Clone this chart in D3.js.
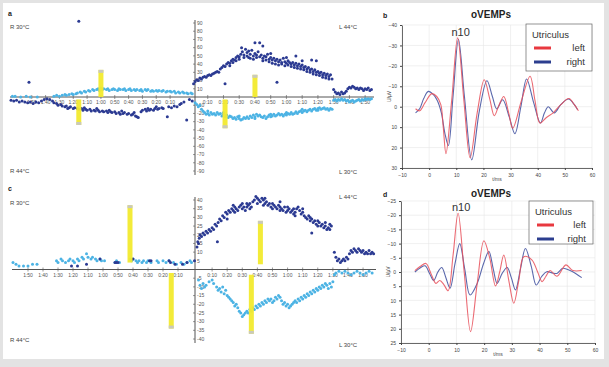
<!DOCTYPE html>
<html>
<head>
<meta charset="utf-8">
<script src="https://cdn.jsdelivr.net/npm/d3@7"></script>
<style>
  body { margin: 0; background: #e3e3e3; }
  svg { display: block; font-family: "Liberation Sans", Arial, sans-serif; }
  .tk { font-size: 5px; fill: #555; }
  .wt { font-size: 5px; fill: #444; }
  .corner { font-size: 6px; fill: #444; }
</style>
</head>
<body>
<svg id="fig" width="609" height="367"></svg>
<script>
// ---- data -------------------------------------------------------------
var timeSecs = [10, 20, 30, 40, 50, 60, 70, 80, 90, 100, 110];
var timeLabels = ['0:10', '0:20', '0:30', '0:40', '0:50', '1:00', '1:10', '1:20', '1:30', '1:40', '1:50'];

var aYTicks = [90, 80, 70, 60, 50, 40, 30, 20, 10, -10, -20, -30, -40, -50, -60, -70, -80, -90];
var cYTicks = [40, 35, 30, 25, 20, 15, 10, 5, -5, -10, -15, -20, -25, -30, -35, -40];

// panel a (time s, deg/s)
var aLeftCyan = [[124,1],[122,1],[118,0],[114,1],[111,0],[106,0],[94,1],[92,2],[90,1],[88,2],[86,3],[85,2],[83,3],[81,4],[80,3],[78,4],[77,5],[75,6],[74,5],[72,7],[71,6],[69,8],[68,7],[66,9],[65,8],[63,9],[62,10],[61,8],[60,11],[59,9],[58,10],[56,9],[55,10],[54,8],[52,9],[51,10],[50,9],[48,8],[47,10],[46,9],[44,9],[43,10],[42,8],[40,9],[39,10],[38,8],[36,9],[35,8],[34,9],[32,8],[31,9],[30,7],[28,9],[27,8],[26,9],[24,7],[23,8],[22,7],[20,8],[19,7],[18,8],[16,7],[15,8],[13,6],[12,7],[10,7],[9,6],[7,7],[6,5],[4,6],[3,5],[1,6],[0,5],[-2,5],[-3,4],[-5,5],[-6,4]];
var aLeftDark = [[125,-4],[123,-5],[121,-4],[119,-6],[117,-5],[115,-6],[113,-7],[111,-6],[109,-8],[107,-6],[105,-7],[103,-5],[101,-3],[99,-2],[97,-3],[95,-5],[94,-7],[92,-8],[91,-10],[89,-9],[88,-11],[86,-12],[85,-11],[83,-13],[82,-12],[80,-14],[79,-13],[77,-14],[76,-15],[74,-14],[73,-16],[71,-15],[70,-16],[68,-15],[67,-17],[65,-16],[64,-17],[62,-16],[61,-18],[59,-17],[58,-18],[56,-17],[55,-19],[53,-18],[52,-19],[50,-18],[49,-20],[47,-19],[46,-21],[44,-20],[43,-19],[41,-21],[40,-20],[38,-22],[37,-21],[35,-23],[34,-24],[33,-25],[31,-18],[30,-16],[28,-15],[27,-17],[25,-16],[24,-15],[22,-16],[21,-14],[19,-15],[18,-14],[16,-13],[15,-14],[12,-24],[11,-12],[9,-13],[7,-11],[5,-12],[3,-9],[2,-8],[0,-6],[-2,-28],[-4,-3],[-6,-5],[76,92],[112,18],[84,-14],[72,-13],[63,-14],[54,-16],[45,-17],[36,-19],[26,-14],[20,-12]];
var aRightDark = [[1,16],[2,19],[3,21],[4,20],[5,23],[6,22],[7,24],[8,25],[9,24],[10,26],[11,27],[12,26],[13,28],[14,29],[15,30],[16,31],[17,30],[18,34],[19,36],[20,38],[21,37],[22,40],[23,42],[24,41],[25,44],[26,46],[27,45],[28,48],[29,50],[30,49],[31,52],[31.5,60],[32,55],[33,51],[34,58],[35,54],[36,56],[37,52],[38,57],[39,50],[40,53],[41,48],[42,55],[43,66],[44,51],[45,47],[46,50],[47,49],[48,52],[49,46],[50,48],[51,45],[52,47],[53,44],[54,46],[55,43],[56,45],[57,42],[58,47],[59,43],[60,41],[61,44],[62,42],[63,40],[64,42],[65,39],[66,41],[67,38],[68,40],[69,37],[70,39],[71,36],[72,37],[73,34],[74,36],[75,33],[76,34],[77,31],[78,33],[79,30],[80,31],[81,29],[82,30],[83,27],[84,29],[85,26],[86,28],[87,25],[88,27],[89,22],[90,9],[91,6],[92,4],[93,5],[94,3],[95,6],[96,4],[97,5],[98,7],[99,10],[100,12],[101,11],[102,13],[103,12],[104,10],[105,11],[106,9],[107,11],[108,10],[109,8],[110,10],[111,9],[112,11],[113,8],[114,9],[21,16],[54,18],[40,66],[45,62],[66,50],[76,45],[79,44],[36,48],[50,53],[60,48],[70,44],[24,38],[26,42],[28,44],[30,46],[33,48],[35,50],[37,47],[39,46],[41,51],[43,49],[45,44],[47,45],[49,43],[51,41],[53,40],[55,39],[57,40],[59,38],[61,39],[63,37],[65,36],[67,35],[69,34],[71,33],[73,31],[75,30],[77,28],[79,27],[81,26],[83,24],[85,23],[87,22]];
var aRightCyan = [[2,-7],[3,-9],[4,-12],[5,-10],[6,-15],[7,-17],[8,-19],[9,-21],[10,-20],[11,-22],[12,-19],[13,-21],[14,-20],[15,-22],[16,-19],[17,-21],[18,-20],[19,-23],[20,-21],[21,-24],[22,-22],[23,-25],[24,-23],[25,-24],[26,-26],[27,-25],[28,-27],[29,-24],[30,-26],[31,-28],[32,-27],[33,-25],[34,-26],[35,-24],[36,-26],[37,-23],[38,-25],[39,-22],[40,-24],[41,-21],[42,-23],[43,-22],[44,-24],[45,-25],[46,-23],[47,-26],[48,-24],[49,-22],[50,-24],[51,-23],[52,-21],[53,-23],[54,-22],[55,-20],[56,-22],[57,-21],[58,-23],[59,-21],[60,-22],[61,-20],[62,-21],[63,-19],[64,-21],[65,-20],[66,-18],[67,-20],[68,-18],[69,-17],[70,-19],[71,-17],[72,-16],[73,-18],[74,-16],[75,-15],[76,-17],[77,-15],[78,-14],[79,-16],[80,-14],[81,-13],[82,-15],[83,-14],[84,-13],[85,-15],[86,-14],[87,-16],[88,-14],[89,-15],[90,-4],[91,-3],[92,-5],[93,-3],[94,-4],[95,-2],[96,-4],[97,-3],[98,-5],[99,-4],[100,-6],[101,-5],[102,-4],[103,-6],[104,-5],[105,-4],[106,-3],[107,-5],[108,-3],[109,-4],[110,-2],[111,-3],[112,-2],[113,-3],[114,-2],[10,-17],[20,-19],[30,-23],[40,-26],[50,-21],[60,-19],[70,-15],[80,-16]];
// bars: [time, from, to]
var aLeftBars = [[60, 0, 33], [76, -3, -34]];
var aRightBars = [[40, 0, 27], [21, -3, -38]];

// panel c
var cLeftCyan = [[120,4],[118,3],[116,2],[113,2],[110,2],[107,3],[104,3],[91,5],[90,4],[88,6],[87,5],[85,4],[83,5],[82,6],[80,5],[79,4],[77,6],[76,5],[74,7],[73,6],[71,9],[70,7],[68,6],[67,7],[65,6],[64,5],[62,6],[61,5],[59,5],[52,4],[51,5],[49,4],[42,6],[41,5],[40,6],[38,5],[37,4],[36,5],[34,4],[33,5],[31,4],[30,5],[28,4],[24,5],[23,4],[20,5],[18,4],[16,5],[13,4],[11,3],[8,4],[6,3],[4,4],[2,5],[1,4]];
var cLeftDark = [[81,2],[77,2],[71,3],[62,6],[52,4],[51,4],[50,4],[40,6],[29,5],[28,5],[16,5],[15,4],[12,3],[7,3],[4,4],[-1,5]];
var cRightDark = [[0,13],[0.5,16],[1,15],[1.5,18],[2,20],[3,19],[4,21],[5,20],[6,22],[7,21],[8,23],[9,22],[10,24],[11,23],[12,26],[13,25],[14,27],[15,29],[16,28],[17,31],[18,30],[19,33],[20,32],[21,34],[22,33],[23,35],[24,34],[25,36],[26,35],[27,34],[28,36],[29,37],[30,35],[31,36],[32,34],[33,36],[34,37],[35,38],[36,36],[37,39],[38,40],[39,42],[40,41],[41,40],[42,39],[43,41],[44,40],[45,38],[46,39],[47,37],[48,38],[49,36],[50,38],[51,37],[52,36],[53,35],[54,37],[55,36],[56,35],[57,34],[58,36],[59,33],[60,34],[61,35],[62,33],[63,34],[64,32],[65,33],[66,35],[67,36],[68,34],[69,32],[70,33],[71,31],[72,30],[73,29],[74,31],[75,28],[76,29],[77,27],[78,28],[79,26],[80,28],[81,27],[82,25],[83,26],[84,24],[85,25],[86,23],[87,24],[88,26],[89,25],[91,10],[92,7],[93,5],[94,6],[95,4],[96,5],[97,6],[98,5],[99,7],[100,6],[101,9],[102,11],[103,10],[104,12],[105,11],[106,10],[107,12],[108,11],[109,10],[110,11],[111,9],[112,10],[113,9],[114,11],[115,9],[116,10],[117,9],[13.5,16],[76,21],[24,37],[33,38],[44,37],[55,39],[64,35],[20,29],[25,33],[30,38],[35,35],[40,38],[45,41],[50,35],[55,34],[60,36],[65,31],[70,35],[75,30],[80,25],[85,27],[88,23]];
var cRightCyan = [[1,-6],[2,-9],[3,-11],[4,-8],[5,-10],[6,-9],[8,-7],[10,-6],[11,-8],[13,-10],[14,-12],[15,-11],[16,-13],[17,-10],[18,-14],[19,-12],[20,-15],[21,-16],[22,-17],[23,-18],[24,-19],[25,-21],[26,-20],[27,-22],[28,-24],[29,-25],[30,-27],[31,-26],[32,-25],[33,-24],[34,-25],[35,-23],[36,-24],[37,-22],[38,-23],[39,-21],[40,-22],[41,-20],[42,-21],[43,-19],[44,-20],[45,-18],[46,-19],[47,-17],[48,-18],[49,-17],[50,-19],[51,-18],[52,-16],[53,-17],[54,-15],[55,-16],[56,-18],[57,-20],[58,-19],[59,-21],[60,-20],[61,-22],[62,-21],[63,-20],[64,-19],[65,-18],[66,-19],[67,-17],[68,-18],[69,-16],[70,-17],[71,-15],[72,-16],[73,-14],[74,-15],[75,-13],[76,-14],[77,-12],[78,-13],[79,-11],[80,-12],[81,-10],[82,-11],[83,-9],[84,-10],[85,-8],[86,-9],[87,-11],[88,-8],[89,-10],[90,-7],[91,-3],[92,-2],[94,-1],[96,-2],[98,-1],[100,-2],[102,-3],[104,-2],[106,-1],[108,-2],[110,-3],[112,-2],[114,-1],[116,-2]];
var cLeftBars = [[42, 4, 37], [14.5, -2, -34]];
var cRightBars = [[42, 3, 28], [36, -3, -37]];

// oVEMP waveforms: [t ms, amplitude uV]
var waveXTicks = [-10, 0, 10, 20, 30, 40, 50, 60];
var bYTicks = [-40, -30, -20, -10, 0, 10, 20, 30];
var dYTicks = [-25, -20, -15, -10, -5, 0, 5, 10, 15, 20, 25];
var bLeft = [[-5,1],[-3.5,2],[-1.5,-2],[1,-6.4],[2.8,-5],[4.3,-1],[5.2,10],[6.2,23],[8.3,-3],[10.5,-33.7],[12.8,-3],[15.1,25],[17.7,3],[20.3,-13.2],[22.3,-4],[24,4.4],[25.8,-1],[27.5,-5],[29.3,3],[30.8,10.5],[34,-3],[37.2,-14.9],[39,-3],[40.8,8],[43,5.5],[45.7,3],[48.5,-1],[51.5,-4],[53.5,-1],[55,2]];
var bRight = [[-5,3],[-3.5,1],[-2,-4],[-0.3,-7.5],[1.5,-6],[3,-3],[4.5,3],[5.8,13],[7.1,19],[8.8,-5],[10.8,-33],[13,-5],[15.7,26],[18.5,2],[21.3,-12.7],[23.3,-5],[24.9,1.1],[27.1,-3.4],[29.5,5],[31.6,13.2],[33.8,0],[35.9,-13.6],[38.5,-2],[41,8],[42.5,3],[43.9,0],[46.1,3],[48.5,-1],[51.3,-3.8],[53.5,-1],[54.7,1.5]];
var dLeft = [[-5,-0.5],[-3,-2],[-1,-3],[1,1],[2.6,4],[4,3],[5.5,4.5],[7,6.6],[8.8,-6],[10.6,-20.7],[12.8,0],[15.1,21],[17.5,4],[19.9,-11],[22,-5],[24.1,4.9],[25.6,0],[27.1,-6],[28.9,3],[30.7,11],[32.5,3],[34.3,-5.4],[37.2,-4.3],[39.3,0],[40.9,3.4],[42.3,1.5],[43.8,-0.5],[46.3,1.5],[49.5,-2.5],[52,-0.5],[55.2,-0.5]];
var dRight = [[-5,0],[-3,-1.5],[-1.3,-2.2],[0.3,0.5],[1.8,3],[3.3,0],[4.7,-1.6],[6.2,2],[7.7,5.7],[9.5,-3],[11.2,-10],[13,-1],[14.9,8.1],[17.5,4],[19.8,-3],[21.7,-7.2],[23.3,-1],[24.7,4],[26.5,0.5],[28.3,-1.6],[29.8,2],[31.3,6.3],[33.1,-1],[34.9,-8.3],[37,-2],[38.8,4.6],[40.8,1.5],[42.6,-0.1],[44.5,0.3],[46.3,0.5],[48.4,-1.3],[51,-0.5],[53,0.5],[55.2,2]];

// ---- drawing ----------------------------------------------------------
var d3 = window.d3;
var svg = d3.select('#fig');
var axisColor = '#555';
var darkBlue = '#2b3a92';
var cyan = '#4cb3e4';

svg.append('rect').attr('x', 3).attr('y', 3).attr('width', 601).attr('height', 356).attr('fill', '#fff');

function dots(g, data, xs, ys, color) {
  g.selectAll(null).data(data).enter().append('circle')
    .attr('cx', function (d) { return xs(d[0]); })
    .attr('cy', function (d) { return ys(d[1]); })
    .attr('r', 1.5)
    .attr('fill', color);
}

function bars(g, data, xs, ys) {
  data.forEach(function (b) {
    var x = xs(b[0]);
    var y1 = ys(b[1]), y2 = ys(b[2]);
    var top = Math.min(y1, y2), h = Math.abs(y2 - y1);
    g.append('rect').attr('x', x - 2.5).attr('y', top).attr('width', 5).attr('height', h)
      .attr('fill', '#f2ea2e').attr('opacity', 0.95);
    // light grey cap at the far end
    var capY = y2 < y1 ? y2 : y2 - 3;
    g.append('rect').attr('x', x - 2.5).attr('y', capY).attr('width', 5).attr('height', 3)
      .attr('fill', '#c9c9bd');
  });
}

function drawScatter(o) {
  var g = svg.append('g');
  var yz = o.y(0);
  g.append('line').attr('x1', o.x0).attr('x2', o.x1).attr('y1', yz).attr('y2', yz)
    .attr('stroke', axisColor).attr('stroke-width', 1);
  [o.xl, o.xr].forEach(function (sc) {
    timeSecs.forEach(function (s, i) {
      var x = sc(s);
      g.append('line').attr('x1', x).attr('x2', x).attr('y1', yz - 2).attr('y2', yz + 2)
        .attr('stroke', axisColor).attr('stroke-width', 0.6);
      g.append('text').attr('class', 'tk').attr('x', x).attr('y', yz + 7)
        .attr('text-anchor', 'middle').text(timeLabels[i]);
    });
  });
  var yr = o.y.range();
  g.append('line').attr('x1', o.axisX).attr('x2', o.axisX).attr('y1', yr[1] - 3).attr('y2', yr[0] + 4)
    .attr('stroke', axisColor).attr('stroke-width', 1);
  o.yTicks.forEach(function (v) {
    g.append('line').attr('x1', o.axisX - 2).attr('x2', o.axisX).attr('y1', o.y(v)).attr('y2', o.y(v))
      .attr('stroke', axisColor).attr('stroke-width', 0.6);
    g.append('text').attr('class', 'tk').attr('x', o.axisX + 2).attr('y', o.y(v) + 1.8).text(v);
  });

  dots(g, o.leftCyan, o.xl, o.y, cyan);
  dots(g, o.rightCyan, o.xr, o.y, cyan);
  dots(g, o.leftDark, o.xl, o.y, darkBlue);
  dots(g, o.rightDark, o.xr, o.y, darkBlue);
  bars(g, o.leftBars, o.xl, o.y);
  bars(g, o.rightBars, o.xr, o.y);

  svg.append('text').attr('x', 8).attr('y', o.labelY).attr('font-size', 7).attr('font-weight', 'bold')
    .attr('fill', '#222').text(o.label);
  o.corners.forEach(function (c) {
    svg.append('text').attr('class', 'corner').attr('x', c[0]).attr('y', c[1]).text(c[2]);
  });
}

drawScatter({
  label: 'a', labelY: 16,
  xl: d3.scaleLinear().domain([-8, 125]).range([195, 11]),
  xr: d3.scaleLinear().domain([0, 115]).range([192, 373]),
  y: d3.scaleLinear().domain([-90, 90]).range([171, 23]),
  x0: 10, x1: 374, axisX: 195, yTicks: aYTicks,
  leftCyan: aLeftCyan, leftDark: aLeftDark, rightCyan: aRightCyan, rightDark: aRightDark,
  leftBars: aLeftBars, rightBars: aRightBars,
  corners: [[10, 29, 'R 30°C'], [10, 173, 'R 44°C'], [339, 29, 'L 44°C'], [339, 174, 'L 30°C']]
});

drawScatter({
  label: 'c', labelY: 191,
  xl: d3.scaleLinear().domain([0, 125]).range([193, 5.5]),
  xr: d3.scaleLinear().domain([0, 115]).range([197, 370.6]),
  y: d3.scaleLinear().domain([-40, 40]).range([339, 200]),
  x0: 12, x1: 376, axisX: 195, yTicks: cYTicks,
  leftCyan: cLeftCyan, leftDark: cLeftDark, rightCyan: cRightCyan, rightDark: cRightDark,
  leftBars: cLeftBars, rightBars: cRightBars,
  corners: [[10, 205, 'R 30°C'], [10, 342, 'R 44°C'], [339, 199, 'L 44°C'], [339, 347, 'L 30°C']]
});

function drawWave(o) {
  var g = svg.append('g');
  var x = o.x, y = o.y;
  var xr = x.range(), yr = y.range();

  // grid
  g.selectAll(null).data(waveXTicks).enter().append('line')
    .attr('x1', function (d) { return x(d); }).attr('x2', function (d) { return x(d); })
    .attr('y1', yr[0]).attr('y2', yr[1]).attr('stroke', '#e6e6e6').attr('stroke-width', 0.6);
  g.selectAll(null).data(o.yTicks).enter().append('line')
    .attr('x1', xr[0]).attr('x2', xr[1])
    .attr('y1', function (d) { return y(d); }).attr('y2', function (d) { return y(d); })
    .attr('stroke', '#e6e6e6').attr('stroke-width', 0.6);

  var ax = g.append('g').attr('transform', 'translate(0,' + yr[1] + ')')
    .call(d3.axisBottom(x).tickValues(waveXTicks).tickSize(2).tickSizeOuter(0));
  var ay = g.append('g').attr('transform', 'translate(' + xr[0] + ',0)')
    .call(d3.axisLeft(y).tickValues(o.yTicks).tickSize(2).tickSizeOuter(0));
  [ax, ay].forEach(function (a) {
    a.select('.domain').attr('stroke', '#444').attr('stroke-width', 0.8);
    a.selectAll('.tick line').attr('stroke', '#444');
    a.selectAll('text').attr('font-size', 5).attr('fill', '#444').attr('font-family', 'Liberation Sans, Arial, sans-serif');
  });

  var line = d3.line()
    .x(function (d) { return x(d[0]); })
    .y(function (d) { return y(d[1]); })
    .curve(d3.curveCatmullRom.alpha(0.5));
  g.append('path').datum(o.right).attr('d', line).attr('fill', 'none')
    .attr('stroke', '#3d4d9e').attr('stroke-width', 1.1).attr('opacity', 0.85);
  g.append('path').datum(o.left).attr('d', line).attr('fill', 'none')
    .attr('stroke', '#e8505a').attr('stroke-width', 1.1).attr('opacity', 0.85);

  // labels
  var peak = d3.min(o.left, function (d) { return d[1]; });
  var peakT = o.left.filter(function (d) { return d[1] === peak; })[0][0];
  g.append('text').attr('x', x(peakT) + 3).attr('y', y(peak) - 2).attr('text-anchor', 'middle')
    .attr('font-size', 11).attr('fill', '#333').text('n10');
  g.append('text').attr('x', 491).attr('y', o.titleY).attr('text-anchor', 'middle')
    .attr('font-size', 10).attr('font-weight', 'bold').attr('fill', '#222').text('oVEMPs');
  g.append('text').attr('x', 383).attr('y', o.titleY).attr('font-size', 7).attr('font-weight', 'bold')
    .attr('fill', '#222').text(o.label);
  g.append('text').attr('class', 'wt').attr('x', (xr[0] + xr[1]) / 2).attr('y', yr[1] + 13)
    .attr('text-anchor', 'middle').attr('font-size', 4.5).text('t/ms');
  g.append('text').attr('class', 'wt').attr('font-size', 4.5).attr('text-anchor', 'middle')
    .attr('transform', 'translate(' + (xr[0] - 11) + ',' + (yr[0] + yr[1]) / 2 + ') rotate(-90)')
    .text('U/µV');

  // legend
  var L = o.legend;
  g.append('rect').attr('x', L[0]).attr('y', L[1]).attr('width', L[2]).attr('height', L[3])
    .attr('fill', '#fff').attr('stroke', '#666').attr('stroke-width', 0.7);
  g.append('text').attr('x', L[0] + 6).attr('y', L[1] + 14).attr('font-size', 9.5).attr('fill', '#333').text('Utriculus');
  [['left', '#e8383f', 24], ['right', '#2c3e8f', 38]].forEach(function (r) {
    g.append('line').attr('x1', L[0] + 8).attr('x2', L[0] + 25).attr('y1', L[1] + r[2]).attr('y2', L[1] + r[2])
      .attr('stroke', r[1]).attr('stroke-width', 3);
    g.append('text').attr('x', L[0] + L[2] - 7).attr('y', L[1] + r[2] + 3).attr('text-anchor', 'end')
      .attr('font-size', 9.5).attr('fill', '#333').text(r[0]);
  });
}

drawWave({
  label: 'b', titleY: 18,
  x: d3.scaleLinear().domain([-10, 60]).range([402, 592]),
  y: d3.scaleLinear().domain([-40, 30]).range([25, 168]),
  yTicks: bYTicks, left: bLeft, right: bRight,
  legend: [526, 24, 66, 47]
});

drawWave({
  label: 'd', titleY: 197,
  x: d3.scaleLinear().domain([-10, 60]).range([401, 595]),
  y: d3.scaleLinear().domain([-25, 25]).range([201, 343]),
  yTicks: dYTicks, left: dLeft, right: dRight,
  legend: [529, 201, 64, 43]
});
</script>
</body>
</html>
